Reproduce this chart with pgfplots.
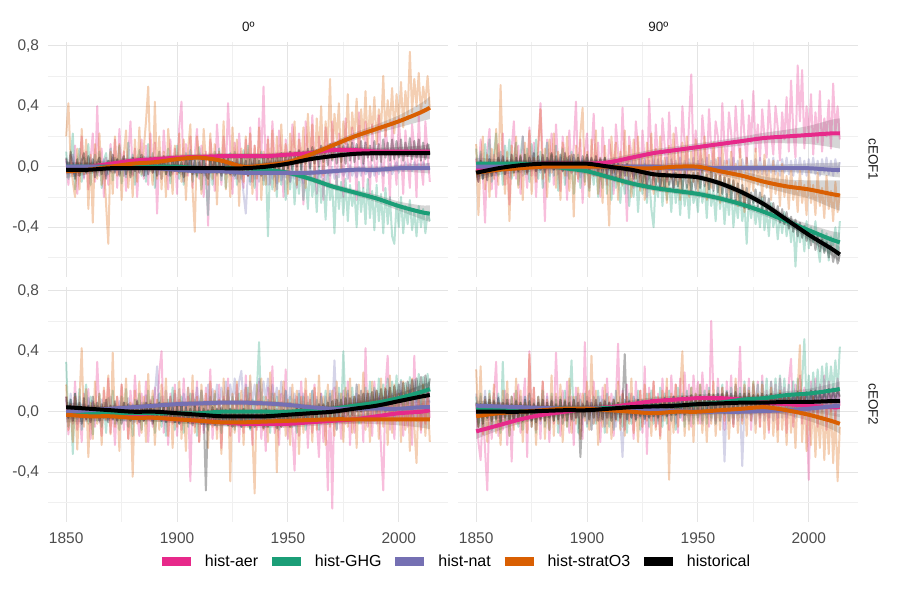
\documentclass[border=0pt]{standalone}
\usepackage{fontspec}
\setmainfont{Liberation Sans}
\usepackage{pgfplots}
\usepackage{pgfplotstable}
\pgfplotsset{compat=1.18}
\usepgfplotslibrary{fillbetween}

\definecolor{caer}{HTML}{E7298A}
\definecolor{cghg}{HTML}{1B9E77}
\definecolor{cnat}{HTML}{7570B3}
\definecolor{cstr}{HTML}{D95F02}
\definecolor{chis}{HTML}{000000}
\definecolor{gmaj}{HTML}{E4E4E4}
\definecolor{gmin}{HTML}{F0F0F0}
\definecolor{txt}{HTML}{4D4D4D}
\definecolor{strip}{HTML}{1A1A1A}

% ---------- annual series: 0 deg, cEOF1 ----------
\pgfplotstableread{
x a g n s h
1850 0.05 0.10 0.04 0.20 0.06
1851 -0.12 -0.08 -0.05 0.42 -0.03
1852 0.08 0.05 0.02 0.05 0.10
1853 -0.05 0.22 0.08 -0.10 0.02
1854 0.14 -0.15 -0.06 -0.20 -0.08
1855 -0.18 0.03 0.03 0.12 0.05
1856 0.02 0.12 -0.02 -0.15 -0.06
1857 0.20 -0.10 0.05 0.25 0.04
1858 -0.08 0.06 -0.07 -0.05 0.09
1859 0.10 -0.04 0.02 0.18 -0.04
1860 -0.15 0.15 -0.04 -0.28 0.07
1861 0.05 -0.12 0.06 0.08 -0.02
1862 0.22 0.02 -0.03 -0.37 0.05
1863 -0.10 0.08 0.04 0.15 -0.07
1864 0.40 -0.06 -0.05 -0.08 0.03
1865 -0.06 0.10 0.03 0.22 0.06
1866 0.12 -0.14 -0.02 -0.12 -0.05
1867 -0.20 0.04 0.05 0.02 0.02
1868 0.06 0.09 -0.06 -0.25 -0.08
1869 -0.12 -0.05 0.02 -0.51 0.04
1870 0.15 0.12 -0.04 0.10 -0.03
1871 -0.04 -0.09 0.06 -0.18 0.08
1872 0.18 0.06 -0.03 0.20 -0.04
1873 -0.14 -0.02 0.04 -0.06 0.05
1874 0.25 0.14 -0.05 0.15 -0.06
1875 -0.02 -0.11 0.03 -0.22 0.03
1876 0.10 0.05 -0.06 0.08 0.07
1877 -0.16 -0.07 0.05 0.24 -0.05
1878 0.08 0.16 -0.02 -0.14 0.02
1879 0.30 -0.04 0.04 0.05 -0.07
1880 -0.06 0.08 -0.05 -0.20 0.06
1881 0.12 -0.12 0.03 0.18 -0.03
1882 -0.20 0.03 -0.04 -0.10 0.05
1883 0.05 0.11 0.06 0.26 -0.04
1884 0.18 -0.06 -0.03 -0.05 0.08
1885 -0.08 0.07 0.02 0.12 -0.06
1886 0.14 -0.10 -0.06 0.30 0.03
1887 -0.12 0.15 0.04 0.53 -0.05
1888 0.22 -0.03 -0.02 0.02 0.06
1889 -0.04 0.09 0.05 -0.12 -0.04
1890 0.16 -0.14 -0.04 0.43 0.05
1891 -0.31 0.04 0.03 -0.08 -0.06
1892 0.10 0.10 -0.05 0.20 0.04
1893 -0.08 -0.08 0.06 -0.15 -0.02
1894 0.24 0.05 -0.03 0.10 0.07
1895 0.02 -0.05 0.04 -0.20 -0.05
1896 -0.15 0.12 -0.06 0.25 0.03
1897 0.18 -0.11 0.02 0.05 -0.06
1898 -0.05 0.06 -0.04 -0.18 0.05
1899 0.12 -0.02 0.05 0.14 -0.03
1900 -0.18 0.14 -0.03 -0.05 0.06
1901 0.26 -0.08 0.04 0.22 -0.04
1902 0.43 0.03 -0.05 -0.10 0.03
1903 -0.10 -0.12 0.03 0.18 -0.07
1904 0.15 0.09 -0.06 -0.22 0.05
1905 -0.06 -0.04 0.05 0.12 -0.02
1906 0.20 0.11 -0.02 0.28 0.06
1907 -0.14 -0.10 0.04 -0.15 -0.05
1908 0.08 0.05 -0.05 -0.43 0.04
1909 0.25 -0.07 0.03 0.20 -0.06
1910 -0.08 0.13 -0.04 0.06 0.03
1911 0.14 -0.15 0.05 -0.18 -0.04
1912 -0.20 0.04 -0.06 0.25 0.07
1913 0.10 -0.08 0.02 0.04 -0.05
1914 -0.39 -0.32 -0.05 -0.12 -0.08
1915 0.18 0.08 0.04 0.22 0.05
1916 0.04 -0.12 -0.03 -0.08 -0.03
1917 -0.16 0.10 0.05 0.15 0.06
1918 0.28 -0.05 -0.06 -0.25 -0.04
1919 0.06 0.12 0.03 0.10 0.04
1920 -0.12 -0.09 -0.04 -0.04 -0.06
1921 0.20 0.06 0.04 0.30 0.05
1922 -0.05 -0.14 -0.05 -0.15 -0.03
1923 0.42 0.03 0.02 0.08 0.06
1924 0.10 0.09 -0.06 -0.20 -0.05
1925 -0.18 -0.06 0.03 0.26 0.03
1926 0.16 0.10 -0.08 -0.02 -0.06
1927 -0.08 -0.12 0.02 0.18 0.05
1928 0.22 0.05 -0.10 -0.26 -0.04
1929 0.00 -0.08 -0.03 0.12 0.07
1930 -0.14 0.11 -0.18 -0.10 -0.05
1931 0.18 -0.04 -0.31 0.20 0.04
1932 -0.06 0.14 -0.02 -0.06 -0.06
1933 0.26 -0.10 -0.12 0.22 0.05
1934 -0.10 0.06 0.02 -0.18 -0.03
1935 0.14 -0.14 -0.08 0.14 0.06
1936 -0.22 0.08 -0.01 -0.08 -0.05
1937 0.32 -0.02 -0.10 0.26 0.04
1938 0.06 0.10 0.00 -0.22 -0.06
1939 0.53 -0.12 -0.09 0.10 0.07
1940 -0.04 0.05 -0.02 -0.12 -0.04
1941 0.20 -0.46 -0.12 0.18 0.06
1942 -0.12 0.04 0.01 -0.05 -0.03
1943 0.30 -0.15 -0.08 0.24 0.08
1944 0.02 0.06 -0.03 -0.16 -0.04
1945 -0.15 -0.20 -0.11 0.20 0.07
1946 0.24 0.08 0.00 -0.10 -0.02
1947 0.10 -0.12 -0.09 0.28 0.09
1948 -0.20 0.02 -0.02 -0.02 -0.03
1949 0.18 -0.22 -0.07 0.15 0.08
1950 0.05 0.00 0.01 -0.18 -0.01
1951 -0.10 -0.15 -0.10 0.22 0.10
1952 0.28 0.04 -0.03 0.05 -0.02
1953 0.12 -0.25 -0.08 0.30 0.09
1954 -0.14 -0.02 0.00 -0.12 0.00
1955 0.22 -0.18 -0.09 0.18 0.11
1956 0.04 0.03 -0.04 0.02 -0.02
1957 -0.25 -0.22 -0.11 0.26 0.10
1958 0.30 -0.05 0.01 -0.14 0.02
1959 0.10 -0.28 -0.07 0.35 0.12
1960 -0.08 0.02 -0.03 0.05 -0.01
1961 0.34 -0.20 -0.08 0.28 0.13
1962 0.02 -0.06 0.00 -0.10 0.02
1963 -0.18 -0.30 -0.10 0.32 0.11
1964 0.20 0.00 -0.02 0.08 0.00
1965 0.08 -0.24 -0.07 0.40 0.14
1966 -0.22 -0.08 0.01 -0.06 0.03
1967 0.26 -0.35 -0.09 0.30 0.12
1968 0.12 -0.04 -0.02 0.12 0.01
1969 -0.12 -0.22 -0.06 0.58 0.15
1970 0.30 -0.12 0.00 0.05 0.04
1971 0.06 -0.44 -0.08 0.35 0.13
1972 -0.15 -0.06 -0.01 0.18 0.02
1973 0.22 -0.28 -0.07 0.42 0.16
1974 0.10 -0.10 0.02 -0.02 0.03
1975 -0.20 -0.32 -0.06 0.30 0.14
1976 0.32 -0.08 -0.02 0.15 0.02
1977 0.02 -0.36 -0.08 0.48 0.15
1978 -0.10 -0.12 0.01 0.08 0.04
1979 0.26 -0.26 -0.06 0.36 0.16
1980 0.12 -0.16 -0.01 0.20 0.03
1981 -0.22 -0.40 -0.07 0.45 0.15
1982 0.36 -0.10 0.00 0.10 0.05
1983 0.06 -0.30 -0.06 0.38 0.17
1984 -0.14 -0.14 0.02 0.18 0.02
1985 0.30 -0.38 -0.05 0.50 0.16
1986 0.10 -0.08 -0.02 0.12 0.06
1987 -0.18 -0.34 -0.07 0.40 0.14
1988 0.28 -0.16 0.01 0.22 0.04
1989 0.04 -0.42 -0.06 0.46 0.17
1990 -0.10 -0.12 0.00 0.15 0.05
1991 0.34 -0.36 -0.05 0.38 0.15
1992 0.08 -0.18 0.02 0.24 0.03
1993 -0.16 -0.44 -0.06 0.60 0.18
1994 0.26 -0.14 0.00 0.20 0.06
1995 0.12 -0.38 -0.04 0.44 0.16
1996 -0.22 -0.20 0.02 0.28 0.04
1997 0.30 -0.46 -0.05 0.52 0.18
1998 0.06 -0.51 -0.01 0.22 0.05
1999 -0.12 -0.24 0.03 0.48 0.17
2000 0.32 -0.40 -0.04 0.30 0.06
2001 0.10 -0.20 0.01 0.56 0.18
2002 -0.18 -0.44 -0.03 0.26 0.04
2003 0.24 -0.26 0.03 0.50 0.16
2004 0.04 -0.38 -0.02 0.34 0.07
2005 -0.14 -0.22 0.02 0.76 0.19
2006 0.28 -0.42 -0.03 0.36 0.05
2007 0.12 -0.30 0.03 0.58 0.17
2008 -0.20 -0.46 -0.01 0.40 0.06
2009 0.34 -0.26 0.02 0.62 0.18
2010 0.02 -0.40 -0.02 0.35 0.04
2011 -0.12 -0.28 0.03 0.53 0.16
2012 0.30 -0.44 -0.01 0.42 0.05
2013 0.08 -0.30 0.02 0.60 0.15
2014 -0.10 -0.36 -0.02 0.38 0.08
}\TLn

% ---------- annual series: 90 deg, cEOF1 ----------
\pgfplotstableread{
x a g n s h
1850 0.05 0.12 0.06 0.15 -0.02
1851 -0.10 -0.05 -0.04 -0.32 -0.10
1852 0.18 0.10 0.08 0.02 0.04
1853 -0.05 -0.08 -0.06 0.20 -0.08
1854 -0.37 0.15 0.03 -0.15 0.02
1855 0.10 -0.02 -0.05 0.08 -0.09
1856 0.25 0.18 0.07 -0.20 0.05
1857 -0.15 -0.10 -0.02 0.12 -0.06
1858 0.08 0.08 0.05 -0.08 0.03
1859 -0.20 0.22 -0.06 0.25 -0.04
1860 0.15 -0.06 0.09 -0.12 0.06
1861 -0.02 0.10 -0.03 0.54 -0.03
1862 0.22 -0.12 0.06 0.05 0.07
1863 -0.12 0.14 -0.05 -0.18 -0.05
1864 0.06 0.02 0.04 0.10 0.04
1865 -0.25 0.18 -0.07 -0.36 -0.02
1866 0.12 -0.08 0.05 0.14 0.08
1867 0.30 0.06 -0.02 -0.06 -0.04
1868 -0.08 0.16 0.08 0.20 0.06
1869 0.14 -0.12 -0.04 -0.14 -0.03
1870 -0.18 0.08 0.06 0.08 0.07
1871 0.20 0.20 -0.06 -0.22 -0.02
1872 0.02 -0.05 0.03 0.16 0.08
1873 -0.14 0.12 -0.05 -0.05 -0.04
1874 0.26 -0.10 0.07 0.24 0.06
1875 -0.06 0.15 -0.02 -0.18 0.00
1876 0.16 0.00 0.05 0.06 0.09
1877 -0.20 0.18 -0.06 -0.10 -0.03
1878 0.10 -0.08 0.04 0.15 0.07
1879 0.42 0.10 -0.04 0.38 -0.02
1880 0.04 -0.14 0.06 -0.08 0.08
1881 -0.36 0.06 -0.03 0.12 -0.04
1882 0.18 0.16 0.05 -0.20 0.06
1883 -0.04 -0.10 -0.06 0.18 0.01
1884 0.22 0.08 0.07 -0.04 0.09
1885 -0.12 -0.06 -0.02 0.22 -0.02
1886 0.28 0.14 0.05 -0.14 0.07
1887 0.00 -0.16 -0.05 0.10 0.00
1888 -0.16 0.04 0.06 -0.22 0.08
1889 0.20 0.12 -0.03 0.16 -0.03
1890 0.06 -0.12 0.04 -0.06 0.09
1891 -0.22 0.06 -0.06 0.20 0.01
1892 0.24 -0.08 0.05 -0.16 0.07
1893 -0.04 0.10 -0.04 0.08 -0.02
1894 0.14 -0.18 0.06 -0.33 0.08
1895 0.43 0.02 -0.05 0.14 0.00
1896 -0.10 0.08 0.04 -0.08 0.06
1897 0.18 -0.14 -0.07 0.22 -0.03
1898 -0.24 0.04 0.05 0.39 0.07
1899 0.10 -0.10 -0.02 -0.12 0.01
1900 0.22 0.06 0.06 0.10 0.08
1901 -0.14 -0.16 -0.04 -0.20 -0.02
1902 0.08 0.02 0.05 0.18 0.06
1903 0.35 -0.12 -0.06 -0.06 0.00
1904 -0.06 0.04 0.04 0.24 0.07
1905 0.16 -0.20 -0.05 -0.18 -0.03
1906 -0.20 0.00 0.06 0.06 0.05
1907 0.26 -0.14 -0.03 -0.24 -0.04
1908 0.04 0.06 0.05 0.14 0.06
1909 -0.12 -0.18 -0.06 -0.08 -0.05
1910 0.18 -0.02 0.04 -0.39 0.04
1911 0.06 -0.22 -0.04 0.20 -0.06
1912 -0.18 0.02 0.06 -0.04 0.03
1913 0.28 -0.14 -0.05 0.16 -0.07
1914 0.10 -0.06 0.03 -0.22 0.02
1915 -0.08 -0.24 -0.06 0.10 -0.08
1916 0.39 -0.04 0.05 -0.12 0.01
1917 0.02 -0.18 -0.04 0.24 -0.06
1918 -0.36 0.00 0.06 -0.06 0.02
1919 0.20 -0.26 -0.03 0.14 -0.09
1920 0.08 -0.08 0.05 -0.20 0.00
1921 -0.14 -0.20 -0.06 0.18 -0.08
1922 0.30 0.00 0.04 -0.08 -0.01
1923 0.12 -0.30 -0.05 0.20 -0.10
1924 -0.10 -0.06 0.06 -0.16 0.00
1925 0.24 -0.18 -0.04 0.08 -0.11
1926 0.04 0.02 0.05 -0.22 -0.02
1927 -0.20 -0.24 -0.06 0.16 -0.12
1928 0.45 -0.06 0.04 -0.04 -0.03
1929 0.10 -0.28 -0.05 0.22 -0.13
1930 -0.12 -0.40 0.06 -0.18 -0.04
1931 0.28 -0.08 -0.04 0.12 -0.12
1932 0.06 -0.20 0.05 -0.10 -0.02
1933 -0.16 -0.02 -0.06 0.20 -0.13
1934 0.32 -0.26 0.04 -0.16 -0.05
1935 0.14 -0.06 -0.05 0.06 -0.14
1936 -0.10 -0.22 0.06 -0.24 -0.03
1937 0.36 -0.10 -0.03 0.14 -0.12
1938 0.08 -0.30 0.05 -0.08 -0.06
1939 -0.14 -0.04 -0.06 0.22 -0.14
1940 0.26 -0.24 0.04 -0.12 -0.04
1941 0.12 -0.10 -0.04 0.10 -0.13
1942 -0.08 -0.32 0.06 -0.22 -0.05
1943 0.40 -0.06 -0.05 0.16 -0.15
1944 0.16 -0.26 0.04 -0.06 -0.03
1945 -0.06 -0.12 -0.06 0.20 -0.14
1946 0.30 -0.34 0.05 -0.20 -0.06
1947 0.61 -0.08 -0.04 0.10 -0.16
1948 0.02 -0.24 0.06 -0.10 -0.04
1949 0.24 -0.16 -0.05 0.18 -0.15
1950 0.10 -0.30 0.04 -0.16 -0.04
1951 -0.08 -0.06 -0.06 0.12 -0.14
1952 0.34 -0.24 0.05 -0.04 -0.02
1953 0.16 -0.12 -0.03 0.20 -0.13
1954 -0.04 -0.34 0.06 -0.22 -0.05
1955 0.38 -0.08 -0.05 0.08 -0.15
1956 0.12 -0.26 0.04 -0.14 -0.03
1957 0.00 -0.16 -0.06 0.16 -0.16
1958 0.30 -0.36 0.05 -0.08 -0.05
1959 0.20 -0.10 -0.04 0.06 -0.17
1960 -0.06 -0.28 0.06 -0.24 -0.06
1961 0.42 -0.14 -0.05 0.14 -0.18
1962 0.14 -0.38 0.04 -0.12 -0.07
1963 0.02 -0.18 -0.06 0.04 -0.20
1964 0.36 -0.32 0.05 -0.20 -0.08
1965 0.22 -0.12 -0.04 0.10 -0.21
1966 -0.04 -0.40 0.06 -0.16 -0.09
1967 0.40 -0.22 -0.05 0.02 -0.23
1968 0.18 -0.34 0.04 -0.26 -0.11
1969 0.06 -0.16 -0.06 0.12 -0.25
1970 0.44 -0.36 0.05 -0.10 -0.12
1971 0.20 -0.24 -0.04 -0.30 -0.27
1972 0.02 -0.51 0.06 0.06 -0.14
1973 0.34 -0.20 -0.05 -0.18 -0.28
1974 0.16 -0.34 0.04 -0.02 -0.17
1975 0.50 -0.22 -0.06 -0.16 -0.24
1976 0.10 -0.38 0.05 0.12 -0.15
1977 0.28 -0.26 -0.04 -0.12 -0.26
1978 0.04 -0.40 0.06 0.00 -0.17
1979 0.38 -0.20 -0.05 -0.20 -0.28
1980 0.20 -0.42 0.04 0.08 -0.19
1981 0.06 -0.28 -0.06 -0.14 -0.30
1982 0.44 -0.46 0.05 -0.02 -0.21
1983 0.22 -0.24 -0.04 -0.22 -0.32
1984 0.08 -0.40 0.06 0.04 -0.24
1985 0.40 -0.30 -0.05 -0.18 -0.34
1986 0.26 -0.48 0.04 -0.04 -0.26
1987 0.04 -0.32 -0.06 -0.26 -0.37
1988 0.36 -0.44 0.05 0.02 -0.28
1989 0.18 -0.30 -0.04 -0.20 -0.38
1990 0.46 -0.46 0.06 -0.06 -0.30
1991 0.10 -0.34 -0.05 -0.28 -0.41
1992 0.57 -0.50 0.04 0.00 -0.33
1993 0.24 -0.36 -0.06 -0.22 -0.43
1994 0.06 -0.66 0.05 -0.10 -0.35
1995 0.67 -0.38 -0.04 -0.30 -0.46
1996 0.30 -0.50 0.06 -0.02 -0.37
1997 0.64 -0.40 -0.05 -0.24 -0.47
1998 0.12 -0.56 0.04 -0.12 -0.39
1999 0.40 -0.36 -0.06 -0.32 -0.49
2000 0.20 -0.54 0.05 -0.02 -0.42
2001 0.48 -0.40 -0.04 -0.24 -0.52
2002 0.08 -0.50 0.06 -0.12 -0.44
2003 0.36 -0.36 -0.05 -0.32 -0.55
2004 0.16 -0.52 0.04 -0.04 -0.46
2005 0.50 -0.63 -0.06 -0.26 -0.56
2006 0.10 -0.42 0.05 -0.14 -0.48
2007 0.32 -0.56 -0.04 -0.34 -0.57
2008 0.20 -0.44 0.06 -0.06 -0.50
2009 0.44 -0.62 -0.05 -0.28 -0.60
2010 0.12 -0.46 0.04 -0.16 -0.52
2011 0.55 -0.52 -0.06 -0.36 -0.63
2012 0.22 -0.40 0.05 -0.10 -0.55
2013 0.40 -0.58 -0.04 -0.30 -0.64
2014 0.18 -0.36 0.03 -0.18 -0.58
}\TRn

% ---------- annual series: 0 deg, cEOF2 ----------
\pgfplotstableread{
x a g n s h
1850 0.10 0.33 0.08 0.18 0.10
1851 -0.15 -0.10 -0.05 -0.12 -0.04
1852 0.05 0.08 0.12 0.05 0.08
1853 -0.08 -0.28 -0.03 -0.20 -0.06
1854 0.20 0.12 0.06 0.10 0.12
1855 -0.12 -0.05 -0.08 -0.25 -0.02
1856 0.02 0.15 0.10 0.08 0.06
1857 -0.20 -0.12 -0.02 0.42 -0.08
1858 0.12 0.04 0.05 -0.10 0.09
1859 -0.05 0.18 -0.06 0.15 -0.05
1860 0.15 -0.08 0.09 -0.30 0.04
1861 -0.18 0.10 -0.04 0.06 -0.07
1862 0.06 -0.15 0.07 -0.18 0.10
1863 -0.10 0.05 -0.06 0.20 -0.03
1864 0.33 -0.06 0.04 -0.08 0.06
1865 0.00 0.12 -0.07 0.12 -0.06
1866 -0.16 -0.10 0.08 -0.22 0.05
1867 0.14 0.06 -0.03 0.16 -0.04
1868 -0.06 -0.14 0.06 -0.05 0.08
1869 0.22 0.09 -0.05 0.24 -0.07
1870 -0.14 -0.04 0.10 -0.15 0.04
1871 0.04 0.14 -0.04 0.39 -0.05
1872 -0.22 -0.08 0.05 -0.10 0.07
1873 0.10 0.02 -0.08 0.10 -0.06
1874 -0.04 -0.12 0.07 -0.26 0.03
1875 0.18 0.10 -0.02 0.18 -0.08
1876 -0.12 -0.06 0.06 -0.04 0.06
1877 0.06 0.15 -0.06 0.22 -0.04
1878 -0.18 -0.10 0.09 -0.18 0.05
1879 0.14 0.04 -0.03 0.06 -0.06
1880 -0.08 -0.16 0.05 -0.43 0.04
1881 0.24 0.08 -0.07 0.14 -0.05
1882 0.00 -0.04 0.08 -0.08 0.07
1883 -0.16 0.12 -0.04 0.20 -0.07
1884 0.12 -0.12 0.06 -0.14 0.03
1885 -0.06 0.06 -0.05 0.10 -0.06
1886 0.20 -0.08 0.11 -0.20 0.06
1887 -0.20 0.14 -0.02 0.25 -0.04
1888 0.08 -0.02 0.07 -0.06 0.05
1889 -0.10 0.10 -0.06 0.14 -0.08
1890 0.16 -0.14 0.12 -0.22 0.04
1891 -0.04 0.04 0.30 0.08 -0.05
1892 0.26 0.12 -0.02 -0.12 0.06
1893 0.40 -0.10 0.10 0.18 -0.06
1894 -0.14 0.06 -0.04 -0.04 0.04
1895 0.06 -0.16 0.14 0.22 -0.07
1896 -0.22 0.08 -0.01 -0.16 0.05
1897 0.12 -0.04 0.10 0.10 -0.05
1898 -0.08 0.16 -0.03 -0.24 0.03
1899 0.18 -0.12 0.12 0.14 -0.07
1900 -0.16 0.04 0.00 -0.10 0.04
1901 0.08 -0.08 0.15 0.20 -0.08
1902 -0.12 0.10 -0.02 -0.18 0.05
1903 0.22 -0.14 0.12 0.06 -0.06
1904 -0.06 0.06 0.02 -0.26 0.03
1905 0.10 -0.10 0.16 0.16 -0.07
1906 -0.46 0.12 -0.01 -0.08 0.02
1907 0.14 -0.06 0.12 0.24 -0.09
1908 -0.10 0.08 0.03 -0.14 0.04
1909 0.20 -0.16 0.16 0.10 -0.06
1910 -0.20 0.02 0.00 -0.20 0.03
1911 0.06 0.14 0.14 0.18 -0.08
1912 -0.14 -0.08 0.04 -0.06 0.02
1913 0.16 0.06 -0.10 0.12 -0.52
1914 -0.08 -0.12 0.18 -0.24 0.01
1915 0.28 0.10 0.02 0.20 -0.08
1916 -0.18 -0.04 0.15 -0.10 0.03
1917 0.04 0.12 0.04 0.14 -0.09
1918 -0.12 -0.10 0.18 -0.18 0.02
1919 0.18 0.06 0.00 0.08 -0.07
1920 -0.24 -0.14 0.16 -0.28 0.03
1921 0.10 0.08 0.06 0.22 -0.08
1922 -0.06 -0.06 0.20 -0.06 0.01
1923 0.22 0.14 0.02 0.16 -0.09
1924 -0.16 -0.08 0.18 -0.46 0.02
1925 0.06 0.10 0.06 0.12 -0.10
1926 -0.10 -0.12 0.22 -0.14 0.01
1927 0.18 0.04 0.00 0.20 -0.08
1928 -0.20 0.12 0.20 -0.08 0.00
1929 0.08 -0.10 0.27 0.14 -0.10
1930 -0.14 0.06 0.04 -0.22 0.02
1931 0.24 -0.06 0.18 0.16 -0.09
1932 -0.04 0.16 0.02 -0.10 -0.01
1933 0.12 -0.12 0.20 0.24 -0.11
1934 -0.22 0.08 0.06 -0.16 0.01
1935 0.06 0.02 0.18 -0.54 -0.10
1936 -0.12 0.14 0.04 0.18 0.00
1937 0.20 0.46 0.22 -0.06 -0.09
1938 -0.18 -0.06 0.06 0.22 0.01
1939 0.04 0.10 0.20 -0.12 -0.11
1940 -0.26 -0.10 0.08 0.10 0.02
1941 0.16 0.08 0.22 -0.20 -0.10
1942 -0.08 -0.14 0.04 0.26 0.00
1943 0.30 0.12 0.18 -0.08 -0.09
1944 -0.14 -0.04 0.06 0.12 0.01
1945 0.02 0.10 0.16 -0.40 -0.11
1946 -0.22 -0.12 0.02 0.14 0.00
1947 0.12 0.06 0.20 -0.10 -0.10
1948 -0.10 -0.08 0.04 0.20 0.01
1949 0.28 0.14 0.14 -0.16 -0.09
1950 -0.18 -0.06 0.00 0.08 0.00
1951 0.06 0.10 0.16 -0.22 -0.10
1952 -0.12 -0.10 0.02 0.18 0.01
1953 -0.39 0.08 0.12 -0.08 -0.09
1954 0.10 -0.14 -0.02 0.14 0.02
1955 -0.16 0.12 0.14 -0.28 -0.08
1956 0.20 -0.04 0.00 0.10 0.03
1957 -0.08 0.10 0.12 -0.14 -0.08
1958 0.14 -0.12 -0.04 0.22 0.02
1959 -0.24 0.06 0.10 -0.06 -0.07
1960 0.08 -0.08 0.02 0.12 0.04
1961 -0.14 0.14 0.14 -0.20 -0.07
1962 0.18 -0.06 -0.02 0.16 0.03
1963 -0.06 0.08 0.10 -0.12 -0.06
1964 -0.30 -0.12 0.00 0.24 0.05
1965 0.12 0.10 0.12 -0.08 -0.06
1966 -0.20 -0.04 -0.04 0.10 0.05
1967 0.04 0.14 0.10 -0.22 -0.05
1968 -0.52 -0.08 0.02 0.18 0.06
1969 0.10 0.12 0.14 -0.10 -0.05
1970 -0.64 -0.06 0.00 0.14 0.07
1971 0.16 0.08 0.34 -0.16 -0.04
1972 -0.12 -0.12 -0.02 0.20 0.08
1973 0.06 0.16 0.12 -0.06 -0.03
1974 -0.18 -0.04 0.00 0.12 0.08
1975 0.14 0.40 0.10 -0.20 -0.04
1976 -0.08 0.02 -0.04 0.16 0.09
1977 0.20 0.14 0.12 -0.10 -0.02
1978 -0.22 -0.06 0.00 0.22 0.09
1979 0.08 0.16 0.10 -0.14 -0.02
1980 -0.14 -0.02 -0.04 0.10 0.10
1981 0.18 0.18 0.12 -0.24 0.00
1982 -0.06 -0.08 0.00 0.18 0.11
1983 0.14 0.14 0.10 -0.08 0.00
1984 -0.20 0.00 -0.04 0.26 0.12
1985 0.42 0.16 0.12 -0.12 0.01
1986 -0.10 -0.04 -0.02 0.14 0.12
1987 0.12 0.20 0.10 -0.20 0.02
1988 -0.16 0.02 -0.04 0.20 0.13
1989 0.20 0.16 0.14 -0.06 0.02
1990 -0.08 -0.02 0.00 0.14 0.14
1991 0.10 0.22 0.12 -0.18 0.03
1992 -0.24 0.04 -0.04 0.22 0.15
1993 -0.52 0.18 0.10 -0.10 0.03
1994 0.16 0.00 0.00 0.16 0.15
1995 0.37 0.22 0.14 -0.22 0.04
1996 -0.12 0.06 -0.02 0.24 0.16
1997 0.08 0.20 0.12 -0.14 0.05
1998 -0.18 0.02 -0.04 0.18 0.17
1999 0.14 0.24 0.10 -0.06 0.06
2000 -0.06 0.03 0.02 0.12 0.18
2001 0.20 0.21 0.14 -0.20 0.06
2002 -0.16 0.01 -0.02 0.20 0.19
2003 0.10 0.19 0.12 -0.12 0.07
2004 -0.10 0.05 0.00 0.16 0.20
2005 0.18 0.23 0.14 -0.26 0.08
2006 -0.22 0.03 -0.02 0.22 0.21
2007 0.37 0.21 0.12 -0.10 0.09
2008 -0.06 0.07 0.02 -0.34 0.22
2009 0.14 0.25 0.14 0.14 0.10
2010 -0.14 0.05 -0.02 -0.12 0.23
2011 0.06 0.23 0.12 0.18 0.11
2012 -0.08 0.09 0.04 -0.16 0.24
2013 0.16 0.25 0.10 0.10 0.12
2014 -0.04 0.13 0.06 -0.20 0.22
}\BLn

% ---------- annual series: 90 deg, cEOF2 ----------
\pgfplotstableread{
x a g n s h
1850 0.05 0.10 0.12 0.28 0.06
1851 -0.20 -0.08 -0.02 -0.10 -0.10
1852 -0.32 0.12 0.10 0.30 0.05
1853 0.02 -0.10 -0.04 -0.15 -0.08
1854 -0.25 0.06 0.14 0.08 0.10
1855 -0.52 -0.04 -0.06 -0.20 -0.04
1856 0.04 0.14 0.10 0.12 0.08
1857 -0.18 -0.12 -0.02 -0.08 -0.06
1858 0.10 0.08 0.12 0.18 0.07
1859 0.33 -0.06 -0.04 -0.14 -0.05
1860 -0.16 0.12 0.10 0.06 0.09
1861 0.06 -0.14 -0.06 -0.22 -0.07
1862 -0.12 0.33 0.08 0.14 0.06
1863 0.14 -0.08 0.00 -0.06 -0.04
1864 -0.22 0.06 0.12 0.20 0.08
1865 0.08 -0.16 -0.04 -0.16 -0.06
1866 -0.33 0.10 0.10 0.10 0.05
1867 0.12 -0.06 -0.06 -0.12 -0.07
1868 -0.08 0.14 0.08 0.22 0.07
1869 0.18 -0.10 -0.04 -0.08 -0.05
1870 -0.14 0.06 0.10 0.14 0.06
1871 0.04 -0.12 -0.06 -0.20 -0.06
1872 0.22 0.10 0.10 0.06 0.08
1873 -0.30 -0.06 -0.02 -0.14 -0.04
1874 0.40 0.12 0.12 0.38 0.07
1875 -0.10 -0.10 -0.06 -0.10 -0.06
1876 0.16 0.06 0.08 0.16 0.05
1877 -0.12 -0.14 -0.04 -0.22 -0.07
1878 0.08 0.10 0.10 0.10 0.06
1879 -0.18 -0.04 -0.08 -0.06 -0.05
1880 0.20 0.14 0.06 0.20 0.08
1881 -0.06 -0.10 -0.04 -0.18 -0.06
1882 0.12 0.04 0.10 0.08 0.06
1883 -0.20 -0.12 -0.06 -0.12 -0.04
1884 0.10 0.12 0.08 0.24 0.07
1885 -0.08 -0.06 -0.04 -0.16 -0.06
1886 0.39 0.08 0.10 0.12 0.05
1887 0.02 -0.14 -0.06 -0.08 -0.05
1888 -0.16 0.10 0.08 0.18 0.08
1889 0.14 -0.08 -0.08 -0.20 -0.04
1890 -0.06 0.14 0.06 0.08 0.07
1891 0.20 -0.10 -0.02 -0.10 -0.06
1892 -0.14 0.06 0.10 0.22 0.06
1893 0.10 0.34 -0.06 -0.14 -0.05
1894 -0.22 -0.06 0.08 0.10 0.08
1895 0.16 0.10 -0.04 -0.08 -0.04
1896 -0.04 -0.14 0.12 0.16 0.06
1897 0.12 0.08 -0.08 -0.18 -0.30
1898 -0.18 -0.04 0.06 0.12 0.05
1899 0.46 0.12 -0.04 -0.06 -0.03
1900 -0.08 -0.10 0.10 0.20 0.07
1901 0.14 0.06 -0.06 -0.12 -0.05
1902 -0.12 -0.12 0.08 0.37 0.06
1903 0.20 0.10 -0.08 -0.08 -0.04
1904 -0.06 -0.08 0.06 0.14 0.08
1905 0.10 0.14 -0.04 -0.22 -0.06
1906 -0.20 -0.06 0.10 0.06 0.06
1907 0.16 0.08 -0.06 -0.10 -0.05
1908 -0.10 -0.14 0.08 0.18 0.07
1909 0.22 0.12 -0.08 -0.14 -0.04
1910 -0.04 -0.10 0.06 0.10 0.06
1911 0.12 0.06 -0.04 -0.18 -0.06
1912 -0.16 -0.12 0.10 0.08 0.08
1913 0.08 0.14 -0.10 -0.06 -0.05
1914 0.45 -0.06 0.06 0.20 0.06
1915 -0.08 0.10 -0.06 -0.12 -0.04
1916 0.14 -0.10 -0.30 0.12 0.05
1917 -0.12 0.08 0.08 -0.16 0.38
1918 0.18 -0.14 -0.06 0.10 -0.05
1919 -0.06 0.12 0.08 -0.08 0.07
1920 0.12 -0.08 -0.04 0.22 -0.04
1921 -0.18 0.10 0.10 -0.14 0.06
1922 0.20 -0.06 -0.06 0.08 -0.05
1923 -0.04 0.14 0.08 -0.20 0.08
1924 0.14 -0.12 -0.04 0.14 -0.03
1925 -0.14 0.08 0.06 -0.10 0.07
1926 0.30 -0.04 -0.08 0.18 -0.05
1927 -0.28 0.12 0.06 -0.06 0.06
1928 0.16 -0.10 -0.04 0.12 -0.04
1929 -0.06 0.14 0.08 -0.16 0.08
1930 0.20 -0.08 -0.06 0.20 -0.03
1931 -0.10 0.10 0.06 -0.12 0.07
1932 0.12 -0.06 -0.08 0.10 -0.04
1933 -0.16 0.16 0.04 -0.18 0.08
1934 0.22 -0.10 -0.06 0.14 -0.02
1935 -0.02 0.12 0.06 -0.06 0.09
1936 0.16 -0.08 -0.04 0.22 -0.03
1937 -0.12 0.14 0.08 -0.45 0.08
1938 0.24 -0.06 -0.06 0.12 -0.02
1939 0.00 0.10 0.04 -0.14 0.10
1940 0.18 -0.12 -0.08 0.18 -0.02
1941 -0.14 0.16 0.06 -0.10 0.09
1942 0.22 -0.04 -0.04 0.14 -0.01
1943 -0.06 0.12 0.08 0.40 0.10
1944 0.26 -0.10 -0.06 -0.16 -0.02
1945 0.02 0.14 0.04 0.10 0.10
1946 0.18 -0.06 -0.08 -0.12 -0.01
1947 -0.10 0.16 0.06 0.16 0.11
1948 0.24 -0.08 -0.04 -0.20 0.00
1949 0.06 0.12 0.06 0.12 0.10
1950 0.20 -0.04 -0.06 -0.08 0.00
1951 -0.08 0.18 0.04 0.18 0.11
1952 0.26 -0.06 -0.08 -0.14 0.00
1953 0.04 0.14 0.06 0.10 0.10
1954 0.18 -0.08 -0.04 -0.20 0.01
1955 -0.10 0.16 0.08 0.14 0.12
1956 0.60 -0.04 -0.06 -0.08 -0.01
1957 0.10 0.12 0.04 0.20 0.11
1958 -0.06 -0.08 -0.08 -0.16 0.00
1959 0.22 0.16 0.06 0.08 0.12
1960 0.02 -0.06 -0.06 -0.12 0.01
1961 0.16 0.18 0.04 0.16 0.12
1962 -0.12 -0.02 -0.33 -0.06 -0.01
1963 0.20 0.14 0.06 0.12 0.13
1964 0.00 -0.06 -0.06 -0.18 0.01
1965 0.24 0.16 0.04 0.10 0.12
1966 -0.10 -0.04 -0.08 -0.10 0.02
1967 0.18 0.18 0.06 0.22 0.13
1968 0.04 -0.02 -0.06 -0.14 0.02
1969 0.43 0.16 0.04 0.10 0.12
1970 -0.06 -0.04 -0.36 -0.08 0.03
1971 0.16 0.20 0.06 0.18 0.12
1972 0.00 0.00 -0.04 -0.16 0.02
1973 0.22 0.16 0.06 0.14 0.12
1974 -0.12 -0.02 -0.06 -0.06 0.03
1975 0.18 0.20 0.04 0.20 0.11
1976 0.02 0.02 -0.08 -0.14 0.03
1977 0.20 0.18 0.06 0.12 0.11
1978 -0.10 -0.02 -0.04 -0.10 0.04
1979 0.24 0.20 0.08 0.18 0.12
1980 -0.02 0.02 -0.06 -0.18 0.03
1981 0.14 0.22 0.06 0.10 0.11
1982 -0.14 0.00 -0.04 -0.12 0.04
1983 0.20 0.20 0.08 0.16 0.12
1984 0.00 0.04 -0.06 -0.16 0.04
1985 0.18 0.22 0.08 0.08 0.11
1986 -0.12 0.02 -0.04 -0.20 0.05
1987 0.22 0.24 0.08 0.14 0.12
1988 0.02 0.04 -0.04 -0.12 0.05
1989 0.16 0.22 0.10 0.10 0.11
1990 -0.14 0.00 -0.04 -0.22 0.06
1991 0.20 0.18 0.08 0.12 0.12
1992 0.35 0.00 -0.02 -0.14 0.05
1993 -0.10 0.20 0.10 0.06 0.12
1994 0.18 0.00 -0.04 -0.24 0.06
1995 0.00 0.22 0.10 0.14 0.13
1996 0.24 0.02 -0.02 0.44 0.06
1997 -0.08 0.20 0.10 -0.20 0.12
1998 0.16 0.48 -0.02 0.10 0.07
1999 -0.02 0.04 0.12 -0.26 0.13
2000 -0.45 0.24 -0.02 0.06 0.06
2001 0.20 0.04 0.12 -0.22 0.14
2002 0.00 0.26 -0.02 0.10 0.06
2003 0.22 0.06 0.14 -0.30 0.14
2004 -0.10 0.28 0.00 0.04 0.07
2005 0.18 0.08 0.12 -0.24 0.13
2006 0.02 0.30 0.00 0.08 0.07
2007 0.24 0.10 0.14 -0.32 0.14
2008 -0.12 0.32 0.02 0.02 0.08
2009 0.20 0.12 0.12 -0.28 0.15
2010 0.00 0.30 0.02 0.06 0.08
2011 0.16 0.14 0.14 -0.34 0.14
2012 -0.06 0.34 0.04 0.00 0.09
2013 0.22 0.12 0.12 -0.46 0.15
2014 0.04 0.43 0.06 -0.10 0.10
}\BRn

% ---------- smoothed fits (value and half-width of the band) ----------
\pgfplotstableread{
x a aw g gw n nw s sw h hw
1850 -0.01 0.04 0.00 0.035 0.00 0.03 -0.03 0.045 -0.02 0.03
1860 0.00 0.03 0.00 0.025 0.00 0.02 -0.02 0.03 -0.02 0.02
1870 0.02 0.025 0.00 0.02 -0.01 0.018 0.00 0.025 -0.01 0.018
1880 0.04 0.022 0.00 0.018 -0.01 0.015 0.02 0.022 -0.01 0.015
1890 0.05 0.02 0.00 0.018 -0.01 0.015 0.03 0.02 -0.01 0.015
1900 0.06 0.02 0.00 0.018 -0.02 0.015 0.05 0.02 -0.01 0.015
1910 0.065 0.02 -0.01 0.018 -0.03 0.015 0.06 0.02 -0.01 0.015
1920 0.07 0.02 -0.01 0.018 -0.03 0.015 0.04 0.02 -0.01 0.015
1930 0.07 0.02 -0.01 0.018 -0.04 0.015 0.00 0.02 -0.01 0.015
1940 0.07 0.02 -0.02 0.018 -0.04 0.015 0.01 0.02 0.00 0.015
1950 0.08 0.02 -0.04 0.018 -0.04 0.015 0.03 0.02 0.02 0.015
1960 0.09 0.02 -0.08 0.018 -0.04 0.015 0.08 0.02 0.05 0.015
1970 0.11 0.02 -0.13 0.02 -0.03 0.015 0.14 0.022 0.07 0.015
1980 0.11 0.022 -0.17 0.02 -0.02 0.016 0.20 0.025 0.085 0.016
1990 0.10 0.025 -0.21 0.025 -0.02 0.018 0.25 0.03 0.09 0.018
2000 0.10 0.03 -0.26 0.03 -0.01 0.022 0.30 0.04 0.09 0.022
2010 0.10 0.04 -0.30 0.045 -0.01 0.03 0.36 0.06 0.09 0.03
2014 0.10 0.05 -0.31 0.055 -0.01 0.035 0.39 0.075 0.09 0.035
}\TLs

\pgfplotstableread{
x a aw g gw n nw s sw h hw
1850 -0.02 0.05 0.02 0.04 0.00 0.035 -0.04 0.05 -0.04 0.035
1860 0.00 0.035 0.02 0.03 0.00 0.025 -0.02 0.035 -0.01 0.025
1870 0.01 0.03 0.02 0.025 0.00 0.02 -0.01 0.03 0.01 0.02
1880 0.02 0.025 0.01 0.02 0.00 0.018 0.00 0.025 0.02 0.018
1890 0.02 0.025 -0.01 0.02 0.00 0.018 0.00 0.025 0.02 0.018
1900 0.02 0.025 -0.03 0.02 0.00 0.018 0.00 0.025 0.02 0.018
1910 0.03 0.025 -0.07 0.02 0.00 0.018 0.00 0.025 0.00 0.018
1920 0.06 0.025 -0.11 0.02 0.00 0.018 -0.01 0.025 -0.02 0.018
1930 0.09 0.025 -0.14 0.02 0.00 0.018 -0.01 0.025 -0.05 0.018
1940 0.11 0.025 -0.16 0.02 -0.01 0.018 0.00 0.025 -0.06 0.018
1950 0.13 0.025 -0.18 0.02 -0.01 0.018 0.00 0.025 -0.07 0.018
1960 0.15 0.025 -0.21 0.02 -0.01 0.018 -0.03 0.025 -0.11 0.018
1970 0.17 0.03 -0.25 0.022 -0.01 0.02 -0.06 0.03 -0.17 0.02
1980 0.19 0.035 -0.30 0.025 -0.01 0.022 -0.10 0.035 -0.25 0.022
1990 0.20 0.045 -0.36 0.03 -0.01 0.026 -0.13 0.045 -0.35 0.026
2000 0.21 0.06 -0.42 0.04 -0.01 0.032 -0.15 0.06 -0.45 0.032
2010 0.22 0.09 -0.48 0.055 -0.02 0.045 -0.18 0.09 -0.54 0.045
2014 0.22 0.10 -0.50 0.065 -0.02 0.05 -0.19 0.10 -0.58 0.05
}\TRs

\pgfplotstableread{
x a aw g gw n nw s sw h hw
1850 0.00 0.05 -0.01 0.04 0.00 0.035 -0.02 0.05 0.03 0.035
1860 -0.01 0.035 -0.01 0.028 0.01 0.025 -0.03 0.035 0.02 0.025
1870 -0.02 0.028 -0.01 0.022 0.02 0.02 -0.03 0.028 0.01 0.02
1880 -0.03 0.025 -0.01 0.02 0.03 0.018 -0.04 0.025 0.00 0.018
1890 -0.04 0.025 -0.01 0.02 0.04 0.018 -0.04 0.025 0.00 0.018
1900 -0.05 0.025 -0.01 0.02 0.05 0.018 -0.05 0.025 -0.01 0.018
1910 -0.06 0.025 -0.01 0.02 0.055 0.018 -0.06 0.025 -0.02 0.018
1920 -0.07 0.025 0.00 0.02 0.06 0.018 -0.07 0.025 -0.03 0.018
1930 -0.08 0.025 0.00 0.02 0.06 0.018 -0.07 0.025 -0.03 0.018
1940 -0.08 0.025 0.00 0.02 0.055 0.018 -0.065 0.025 -0.03 0.018
1950 -0.08 0.025 0.00 0.02 0.045 0.018 -0.06 0.025 -0.02 0.018
1960 -0.07 0.025 0.01 0.02 0.03 0.018 -0.055 0.025 -0.01 0.018
1970 -0.06 0.025 0.02 0.02 0.02 0.018 -0.05 0.025 0.00 0.018
1980 -0.05 0.028 0.04 0.022 0.02 0.02 -0.05 0.028 0.02 0.02
1990 -0.03 0.032 0.06 0.026 0.02 0.022 -0.05 0.032 0.04 0.022
2000 -0.01 0.04 0.09 0.032 0.02 0.028 -0.05 0.04 0.07 0.028
2010 0.00 0.055 0.13 0.045 0.03 0.038 -0.05 0.055 0.10 0.038
2014 0.01 0.065 0.15 0.05 0.03 0.045 -0.05 0.065 0.11 0.045
}\BLs

\pgfplotstableread{
x a aw g gw n nw s sw h hw
1850 -0.13 0.05 0.02 0.04 0.04 0.035 -0.03 0.05 0.00 0.035
1860 -0.09 0.035 0.02 0.028 0.035 0.025 -0.01 0.035 0.00 0.025
1870 -0.05 0.028 0.02 0.022 0.03 0.02 0.00 0.028 0.00 0.02
1880 -0.02 0.025 0.02 0.02 0.025 0.018 0.01 0.025 0.005 0.018
1890 0.00 0.025 0.02 0.02 0.02 0.018 0.02 0.025 0.01 0.018
1900 0.02 0.025 0.02 0.02 0.02 0.018 0.02 0.025 0.01 0.018
1910 0.03 0.025 0.025 0.02 0.015 0.018 0.01 0.025 0.02 0.018
1920 0.05 0.025 0.03 0.02 0.01 0.018 0.00 0.025 0.03 0.018
1930 0.07 0.025 0.035 0.02 0.01 0.018 -0.01 0.025 0.035 0.018
1940 0.08 0.025 0.04 0.02 0.005 0.018 0.00 0.025 0.04 0.018
1950 0.09 0.025 0.05 0.02 0.00 0.018 0.00 0.025 0.05 0.018
1960 0.09 0.025 0.06 0.02 0.00 0.018 0.01 0.025 0.055 0.018
1970 0.08 0.025 0.08 0.02 0.00 0.018 0.02 0.025 0.06 0.018
1980 0.06 0.028 0.09 0.022 0.005 0.02 0.03 0.028 0.06 0.02
1990 0.05 0.032 0.11 0.026 0.01 0.022 0.01 0.032 0.065 0.022
2000 0.04 0.04 0.12 0.032 0.02 0.028 -0.02 0.04 0.065 0.028
2010 0.03 0.055 0.14 0.045 0.035 0.038 -0.06 0.055 0.07 0.038
2014 0.03 0.065 0.15 0.05 0.04 0.045 -0.08 0.065 0.07 0.045
}\BRs

\pgfplotsset{
  nl/.style={line width=1.5pt, opacity=0.3, line join=round, forget plot},
  panel/.style={
    scale only axis, width=300pt, height=176.25pt, anchor=south west,
    xmin=1841.8, xmax=2022.2, ymin=-0.729, ymax=0.8245,
    axis line style={draw=none}, tick style={draw=none},
    xtick={1850,1900,1950,2000}, minor xtick={1875,1925,1975},
    ytick={-0.4,0,0.4,0.8}, minor ytick={-0.6,-0.2,0.2,0.6},
    grid=both,
    major grid style={gmaj, line width=0.75pt},
    minor grid style={gmin, line width=0.45pt},
    xticklabels={}, yticklabels={},
    ticklabel style={font=\fontsize{11.6}{13}\selectfont, text=txt, inner sep=0pt},
    xticklabel shift=8pt, yticklabel shift=6.5pt,
  },
}

\newcommand{\sm}[4]{%
  \addplot[name path=U#2, draw=none, smooth, forget plot] table[x=x, y expr=\thisrow{#2}+\thisrow{#3}]{#1};
  \addplot[name path=L#2, draw=none, smooth, forget plot] table[x=x, y expr=\thisrow{#2}-\thisrow{#3}]{#1};
  \addplot[fill=black!40, fill opacity=0.4, draw=none, forget plot] fill between[of=U#2 and L#2];
  \addplot[#4, line width=3pt, smooth, line join=round, forget plot] table[x=x, y=#2]{#1};
}
\newcommand{\panel}[2]{%
  \addplot[caer, nl] table[x=x, y=a]{#1};
  \addplot[cghg, nl] table[x=x, y=g]{#1};
  \addplot[cnat, nl] table[x=x, y=n]{#1};
  \addplot[cstr, nl] table[x=x, y=s]{#1};
  \addplot[chis, nl] table[x=x, y=h]{#1};
  \sm{#2}{a}{aw}{caer}
  \sm{#2}{g}{gw}{cghg}
  \sm{#2}{n}{nw}{cnat}
  \sm{#2}{s}{sw}{cstr}
  \sm{#2}{h}{hw}{chis}
}

\begin{document}
\begin{tikzpicture}

% top left: 0 deg, cEOF1
\begin{axis}[panel, at={(36pt,242.25pt)},
  yticklabels={{-0,4},{0,0},{0,4},{0,8}}]
\panel{\TLn}{\TLs}
\end{axis}

% top right: 90 deg, cEOF1
\begin{axis}[panel, at={(343.5pt,242.25pt)}]
\panel{\TRn}{\TRs}
\end{axis}

% bottom left: 0 deg, cEOF2
\begin{axis}[panel, at={(36pt,58.5pt)},
  yticklabels={{-0,4},{0,0},{0,4},{0,8}},
  xticklabels={1850,1900,1950,2000},
  legend columns=5,
  legend image code/.code={\draw[#1, line width=6.2pt] (0pt,0pt) -- (21.75pt,0pt);},
  legend style={at={(0.274,-0.168)}, anchor=west, draw=none, fill=none,
    font=\fontsize{12}{14}\selectfont, inner sep=0pt, nodes={inner sep=0pt},
    /tikz/every odd column/.append style={column sep=7.3pt},
    /tikz/every even column/.append style={column sep=7.3pt}},
  legend cell align=left]
\panel{\BLn}{\BLs}
\addlegendimage{caer}\addlegendentry{hist-aer}
\addlegendimage{cghg}\addlegendentry{hist-GHG}
\addlegendimage{cnat}\addlegendentry{hist-nat}
\addlegendimage{cstr}\addlegendentry{hist-stratO3}
\addlegendimage{chis}\addlegendentry{historical}
\end{axis}

% bottom right: 90 deg, cEOF2
\begin{axis}[panel, at={(343.5pt,58.5pt)},
  xticklabels={1850,1900,1950,2000}]
\panel{\BRn}{\BRs}
\end{axis}

% facet strips
\node[font=\fontsize{10.1}{12}\selectfont, text=strip] at (186.2pt,430.1pt) {0º};
\node[font=\fontsize{10.1}{12}\selectfont, text=strip] at (493.7pt,430.1pt) {90º};
\node[font=\fontsize{10.1}{12}\selectfont, text=strip, rotate=-90] at (654.9pt,330.4pt) {cEOF1};
\node[font=\fontsize{10.1}{12}\selectfont, text=strip, rotate=-90] at (654.9pt,146.6pt) {cEOF2};

\pgfresetboundingbox
\path[use as bounding box] (0,0) rectangle (675pt,450pt);
\end{tikzpicture}
\end{document}
